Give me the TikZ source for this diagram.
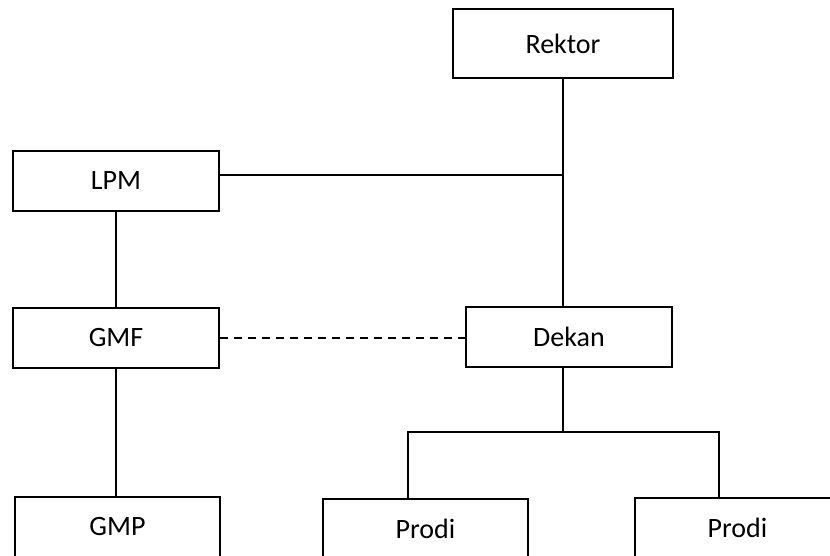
\documentclass[tikz,border=0pt]{standalone}
\usepackage{fontspec}
\setmainfont{Carlito}
\begin{document}
\begin{tikzpicture}[x=1pt,y=-1pt,
  orgbox/.style={draw=black,line width=2.2pt,minimum width=#1,minimum height=60pt,inner sep=0pt,font=\fontsize{28}{32}\selectfont},
  orgbox/.default=206pt,
  conn/.style={line width=1.6pt},
  dashconn/.style={line width=1.6pt,dash pattern=on 8pt off 6pt}]
\useasboundingbox (0,0) rectangle (830,556);
\clip (0,0) rectangle (830,556);
\node[orgbox=220pt,minimum height=69pt] (rektor) at (563,43.5) {Rektor};
\node[orgbox] (lpm) at (116,181) {LPM};
\node[orgbox] (gmf) at (116,338) {GMF};
\node[orgbox] (dekan) at (569,337) {Dekan};
\node[orgbox=205pt] (gmp) at (117.5,527) {GMP};
\node[orgbox=205pt] (prodia) at (425.5,529) {Prodi};
\node[orgbox=205pt] (prodib) at (737.5,528) {Prodi};
\coordinate (jl) at (563,175);
\coordinate (jd) at (563,432);
\coordinate (pa) at (408,432);
\coordinate (pb) at (719,432);
\draw[conn] (rektor.south) -- (rektor.south |- dekan.north);
\draw[conn] (jl -| lpm.east) -- (jl);
\draw[conn] (lpm.south) -- (gmf.north);
\draw[conn] (gmf.south) -- (gmf.south |- gmp.north);
\draw[dashconn] (gmf.east) -- (gmf.east -| dekan.west);
\draw[conn] (jd |- dekan.south) -- (jd);
\draw[conn] (pa |- prodia.north) -- (pa) -- (pb) -- (pb |- prodib.north);
\end{tikzpicture}
\end{document}
